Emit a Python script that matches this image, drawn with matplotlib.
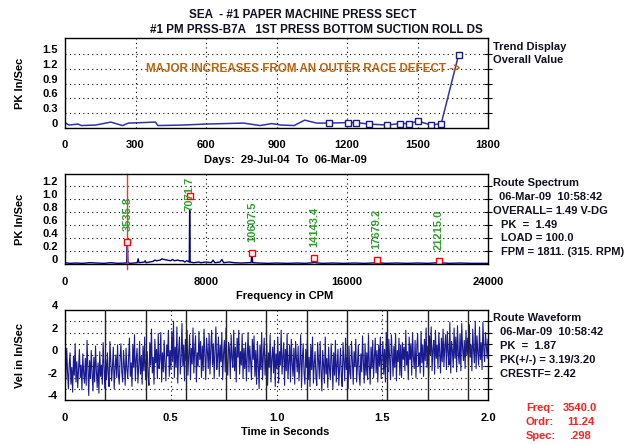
import numpy as np
import matplotlib.pyplot as plt
from matplotlib.transforms import ScaledTranslation

plt.rcParams['font.family'] = ['Liberation Sans', 'DejaVu Sans']
plt.rcParams['font.weight'] = 'bold'
plt.rcParams['axes.labelweight'] = 'bold'
plt.rcParams['font.size'] = 8

# trend: overall PK value vs days (last 11 readings are marked)
trend_days = [0, 17, 55, 70, 130, 195, 245, 270, 330, 385, 395, 500, 600, 760, 830, 880,
              920, 975, 1020, 1070, 1125, 1203, 1238, 1295, 1371, 1424, 1463, 1502,
              1558, 1601, 1675]
trend_pk = [0.11, 0.06, 0.08, 0.05, 0.06, 0.12, 0.05, 0.10, 0.11, 0.12, 0.05, 0.06, 0.08,
            0.10, 0.05, 0.09, 0.06, 0.05, 0.16, 0.10, 0.10, 0.11, 0.11, 0.08, 0.06, 0.09,
            0.09, 0.14, 0.06, 0.09, 1.49]
first_marked = 20

# spectrum (CPM, PK in/sec)
spec_cpm = [0, 300, 600, 1000, 1400, 1800, 2200, 2600, 3000, 3450, 3500, 3536, 3570, 3700,
            3900, 4100, 4150, 4200, 4500, 4550, 4600, 4800, 5000, 5100, 5200, 5400, 5500,
            5600, 5800, 6000, 6100, 6200, 6400, 6500, 6700, 6800, 6900, 7000, 7050, 7072,
            7100, 7300, 7600, 7700, 8000, 8300, 8400, 8500, 8800, 8900, 9000, 9300, 9600,
            10000, 10400, 10560, 10607, 10650, 11000, 11500, 12000, 12600, 13200, 13600,
            14100, 14143, 14180, 14600, 15200, 15800, 16400, 17000, 17400, 17640, 17679,
            17720, 18200, 18800, 19400, 20000, 20600, 21215, 21800, 22400, 23000, 23600, 24000]
spec_pk = [0.02, 0.01, 0.015, 0.01, 0.02, 0.015, 0.01, 0.02, 0.01, 0.015, 0.02, 0.33, 0.02,
           0.01, 0.015, 0.02, 0.08, 0.02, 0.03, 0.05, 0.02, 0.03, 0.04, 0.06, 0.05, 0.06,
           0.08, 0.07, 0.06, 0.05, 0.07, 0.05, 0.06, 0.05, 0.05, 0.03, 0.05, 0.04, 0.03,
           0.83, 0.03, 0.02, 0.03, 0.02, 0.03, 0.02, 0.06, 0.02, 0.03, 0.07, 0.02, 0.03,
           0.02, 0.015, 0.02, 0.02, 0.17, 0.02, 0.015, 0.01, 0.015, 0.01, 0.015, 0.01,
           0.02, 0.08, 0.02, 0.01, 0.015, 0.01, 0.015, 0.01, 0.015, 0.02, 0.04, 0.02, 0.01,
           0.015, 0.01, 0.015, 0.01, 0.02, 0.01, 0.015, 0.01, 0.01, 0.01]
harm_cpm = [3535.8, 7071.7, 10607.5, 14143.4, 17679.2, 21215.0]
harm_mark = [0.33, 1.05, 0.17, 0.09, 0.06, 0.05]
cursor_cpm = 3540.0
rpm = 315.0

# waveform (in/sec), 500 samples over 2.0 s
wave = [
    -0.4, -2.2, 0.6, -1.5, -3.0, -0.8, 0.2, -2.6, -1.1, -3.3, -0.1, -1.8, 1.0, -2.4, -0.6, -2.9, -1.3, 0.5, -2.0, -0.9, -3.1, 0.1, -1.6, -2.5, -0.3,
    -2.7, 1.3, -1.2, -3.6, -0.5, -2.1, 0.4, -1.7, -3.2, -0.2, -2.4, 0.8, -1.4, -2.9, -0.7, -3.4, 0.3, -1.9, -0.9, -2.6, 1.1, -1.0, -3.0, -0.4, -2.2,
    0.2, -1.6, -2.8, 1.2, -0.6, -2.3, -1.0, 0.7, -3.0, -1.3, 0.0, -2.0, 0.9, -1.8, -2.6, -0.3, 1.0, -1.5, -2.4, 0.4, -0.9, -2.7, 0.6, -1.2, -2.1,
    -0.2, 1.5, -1.9, -0.7, -2.8, 0.9, -1.1, 1.8, -2.3, -0.4, 0.6, -2.5, -1.0, 1.2, -1.7, -0.1, -2.6, 0.8, -1.4, 1.6, -2.2, -0.5, 0.3, -1.8, -2.7,
    1.1, -0.9, 2.3, -1.6, -0.2, -2.6, 1.4, -0.7, 0.5, -2.1, 1.9, -1.2, -0.4, 2.0, -2.4, 0.2, -1.5, 1.3, -0.8, -2.3, 0.9, -0.1, 2.2, -1.9, 0.4,
    -1.3, 2.1, -0.6, 3.0, -2.0, 0.7, -1.1, 2.5, -2.5, 0.3, 1.6, -1.7, -0.3, 2.8, -1.0, 0.9, -2.3, 1.4, -0.5, 2.2, -1.8, 0.1, 1.8, -2.2, 0.6,
    -0.8, 2.4, -1.6, 0.5, 1.7, -2.4, 0.2, -1.0, 2.1, -0.4, 1.2, -2.0, 0.8, -1.4, 2.3, -0.1, -2.2, 1.5, 0.3, -1.2, 1.9, -1.7, 0.6, 2.2, -0.9,
    1.0, -2.1, 0.4, 2.5, -1.3, -0.2, 1.6, -1.9, 0.9, -0.6, 2.0, -2.2, 0.1, 1.3, -1.5, 2.4, -0.7, -1.8, 1.1, 0.5, -2.0, 1.8, -0.3, -1.1, 2.2,
    -1.4, 0.7, -2.4, 1.5, -0.2, 2.2, -1.7, 0.3, -0.9, 1.9, -2.1, 0.6, -1.2, 1.1, -2.3, 0.0, 2.0, -1.5, 0.8, -0.6, -2.2, 1.4, -0.4, 1.7, -1.9,
    0.4, -2.6, 1.2, -0.8, -3.0, 0.9, -1.3, 2.0, -2.2, -0.1, 1.5, -1.8, -0.5, 1.0, -2.7, 0.2, -1.1, 1.8, -2.4, -0.3, 0.7, -1.6, 1.3, -2.8, 0.1,
    -1.2, 1.6, -2.5, 0.3, -0.9, 2.2, -1.7, -0.2, 1.1, -2.7, 0.5, -1.4, 1.9, -2.1, -0.6, 0.9, -2.4, 1.4, -0.8, -1.9, 0.6, -2.6, 1.2, -0.3, -1.5,
    0.8, -2.3, -0.7, 1.8, -2.9, -0.4, 1.0, -1.6, -2.6, 0.5, -1.1, 1.4, -2.2, -0.2, -2.8, 0.9, -1.3, 1.6, -2.5, -0.8, 0.3, -1.9, -2.7, 1.1, -0.5,
    -2.0, 1.2, -1.4, -3.2, 0.4, -0.9, -2.5, 1.6, -1.7, -0.3, -2.9, 0.7, -1.2, -2.2, 1.0, -0.6, -3.0, 0.2, -1.8, 1.3, -2.4, -0.8, 0.5, -2.7, -1.1,
    0.6, -1.9, -2.8, 1.1, -0.7, -2.3, 1.5, -1.3, -0.2, -3.0, 0.8, -1.6, -2.1, 1.2, -0.5, -2.6, 0.3, -1.0, 1.4, -2.4, -0.9, 0.9, -1.7, -2.7, 0.1,
    -1.5, 1.7, -0.6, -2.5, 1.0, -1.8, 0.2, -2.2, 1.8, -0.9, -2.6, 0.7, -1.2, 1.3, -2.0, -0.3, 1.5, -1.6, 0.4, -2.4, 0.9, -1.0, 1.6, -2.1, -0.2,
    1.2, -1.7, 0.5, -2.4, 2.0, -0.8, -1.5, 1.4, -0.3, -2.2, 1.8, 0.1, -1.9, 0.8, -1.1, 1.9, -2.3, 0.4, -0.6, 1.5, -1.8, 0.9, -2.0, 1.1, -0.4,
    0.7, -1.4, 2.2, -0.9, 0.3, -2.2, 1.6, -0.4, 1.0, -1.8, 2.0, -0.2, -1.2, 1.3, -2.0, 0.6, 1.9, -1.0, 0.2, -1.6, 2.1, -0.7, 0.9, -1.9, 1.4,
    -0.5, 2.4, -1.1, 0.8, -1.9, 1.7, 0.0, 2.5, -1.4, 0.5, 1.3, -1.7, 2.2, -0.3, 0.9, -1.2, 2.0, 0.3, -1.6, 1.5, -0.6, 2.3, -1.0, 0.7, 1.8,
    -1.3, 2.1, 0.2, -0.9, 2.9, -1.6, 1.2, 0.4, -1.1, 2.4, -0.3, 1.6, -1.5, 2.6, 0.1, -0.8, 1.9, -1.4, 2.8, 0.6, -0.5, 1.3, -1.2, 2.2, 0.0,
    1.5, -1.0, 2.7, -0.2, 0.9, -1.4, 2.3, 0.4, -0.7, 3.0, -1.2, 1.7, 0.2, -0.9, 2.5, -0.4, 1.1, -1.3, 2.9, 0.5, -0.6, 2.0, 0.8, -0.3, 1.4,
]
wave_len_s = 2.0

W, H = 636, 444
fig = plt.figure(figsize=(W / 100, H / 100), dpi=100)
dark = '#101020'


def ftext(x, y, s, **kw):
    kw.setdefault('color', dark)
    fig.text(x / W, 1 - y / H, s, va='center', **kw)


def setup(ax, xlim, xticks, xlabels, xgrid, ylim, yticks, ylabels, ygrid, xlabel, ylabel):
    ax.xaxis.remove_overlapping_locs = False
    ax.yaxis.remove_overlapping_locs = False
    ax.set_xlim(xlim)
    ax.set_ylim(ylim)
    ax.set_xticks(xticks, xlabels)
    ax.set_xticks(xgrid, minor=True)
    ax.set_yticks(yticks, ylabels)
    ax.set_yticks(ygrid, minor=True)
    ax.tick_params(axis='x', which='both', length=0, pad=9, labelsize=8)
    ax.tick_params(axis='y', which='major', length=0, pad=5, labelsize=8)
    ax.tick_params(axis='y', which='minor', left=False, right=True,
                   direction='inout', length=6, width=0.8)
    ax.grid(True, which='minor', color='black', ls=(0, (1, 3)), lw=0.8)
    for lab in ax.get_yticklabels():
        lab.set_transform(lab.get_transform() + ScaledTranslation(0, 5 / 100, fig.dpi_scale_trans))
    for sp in ax.spines.values():
        sp.set_linewidth(1)
    ax.set_xlabel(xlabel, fontsize=8)
    ax.xaxis.set_label_coords(0.52, -0.30)
    ax.set_ylabel(ylabel, fontsize=8)
    ax.yaxis.set_label_coords(-0.095, 0.5)


# trend
ax1 = fig.add_axes([65 / W, 1 - 128 / H, 423 / W, 90 / H])
ax1.plot(trend_days, trend_pk, color='#3333a6', lw=1.1,
         marker='s', markevery=slice(first_marked, None), ms=5,
         mfc='white', mec='#1a1a8c', mew=1)
ax1.text(345, 1.2, 'MAJOR INCREASES FROM AN OUTER RACE DEFECT ->',
         color='#b8650f', va='center', fontsize=8.4)
setup(ax1, (0, 1800), range(0, 1801, 300), None, range(300, 1501, 300),
      (0, 1.83), [0, 0.3, 0.6, 0.9, 1.2, 1.5], ['0', '0.3', '0.6', '0.9', '1.2', '1.5'],
      [0.3, 0.6, 0.9, 1.2, 1.5], 'Days:  29-Jul-04  To  06-Mar-09', 'PK In/Sec')
ftext(493, 47, 'Trend Display')
ftext(493, 60, 'Overall Value')

# spectrum
ax2 = fig.add_axes([65 / W, 1 - 264 / H, 423 / W, 90 / H])
ax2.plot(spec_cpm, spec_pk, color='#000080', lw=1)
ax2.axvline(cursor_cpm, ymin=-0.05, ymax=1, color='#ff3030', lw=1, clip_on=False)
ax2.plot(harm_cpm, harm_mark, 's', ms=5, mfc='white', mec='red', mew=1)
for f, m in zip(harm_cpm, harm_mark):
    line_pk = np.interp(f, spec_cpm, spec_pk)
    if m > line_pk + 0.05:
        ax2.annotate(f'{f:.1f}', (f, line_pk), xytext=(0, 0), textcoords='offset pixels',
                     rotation=90, ha='center', va='bottom', color='#2f9f2f', fontsize=8)
    else:
        ax2.annotate(f'{f:.1f}', (f, m), xytext=(0, 11), textcoords='offset pixels',
                     rotation=90, ha='center', va='bottom', color='#2f9f2f', fontsize=8)
setup(ax2, (0, 24000), [0, 8000, 16000, 24000], None, [8000, 16000],
      (0, 1.38), [0, 0.2, 0.4, 0.6, 0.8, 1.0, 1.2], ['0', '0.2', '0.4', '0.6', '0.8', '1.0', '1.2'],
      [0.2, 0.4, 0.6, 0.8, 1.0, 1.2], 'Frequency in CPM', 'PK In/Sec')
ftext(493, 183, 'Route Spectrum')
ftext(499, 197, '06-Mar-09  10:58:42')
ftext(493, 211, 'OVERALL= 1.49 V-DG')
ftext(501, 225, 'PK  =  1.49')
ftext(501, 238, 'LOAD = 100.0')
ftext(501, 252, 'FPM = 1811. (315. RPM)')

# waveform
ax3 = fig.add_axes([65 / W, 1 - 400 / H, 423 / W, 90 / H])
t = np.linspace(0, wave_len_s, len(wave))
ax3.plot(t, wave, color='#1a1a90', lw=0.8)
period = 60.0 / rpm
for k in range(1, int(wave_len_s / period) + 1):
    ax3.axvline(k * period, color='#222222', lw=1, zorder=3)
setup(ax3, (0, 2.0), [0, 0.5, 1.0, 1.5, 2.0], ['0', '0.5', '1.0', '1.5', '2.0'], [0.5, 1.0, 1.5],
      (-4, 4), [-4, -2, 0, 2, 4], ['-4', '-2', '0', '2', '4'],
      [-3, -2, -1, 0, 1, 2, 3], 'Time in Seconds', 'Vel in In/Sec')
ftext(493, 318, 'Route Waveform')
ftext(500, 332, '06-Mar-09  10:58:42')
ftext(500, 346, 'PK  =  1.87')
ftext(500, 360, 'PK(+/-) = 3.19/3.20')
ftext(500, 374, 'CRESTF= 2.42')

red = '#ff2020'
ftext(526, 408, 'Freq:', color=red)
ftext(597, 408, '3540.0', color=red, ha='right')
ftext(526, 422, 'Ordr:', color=red)
ftext(594, 422, '11.24', color=red, ha='right')
ftext(526, 436, 'Spec:', color=red)
ftext(591, 436, '.298', color=red, ha='right')

ftext(303, 15, 'SEA  - #1 PAPER MACHINE PRESS SECT', ha='center', fontsize=8.4)
ftext(316, 30, '#1 PM PRSS-B7A   1ST PRESS BOTTOM SUCTION ROLL DS', ha='center', fontsize=8.4)

fig.savefig('out.png', dpi=100)
